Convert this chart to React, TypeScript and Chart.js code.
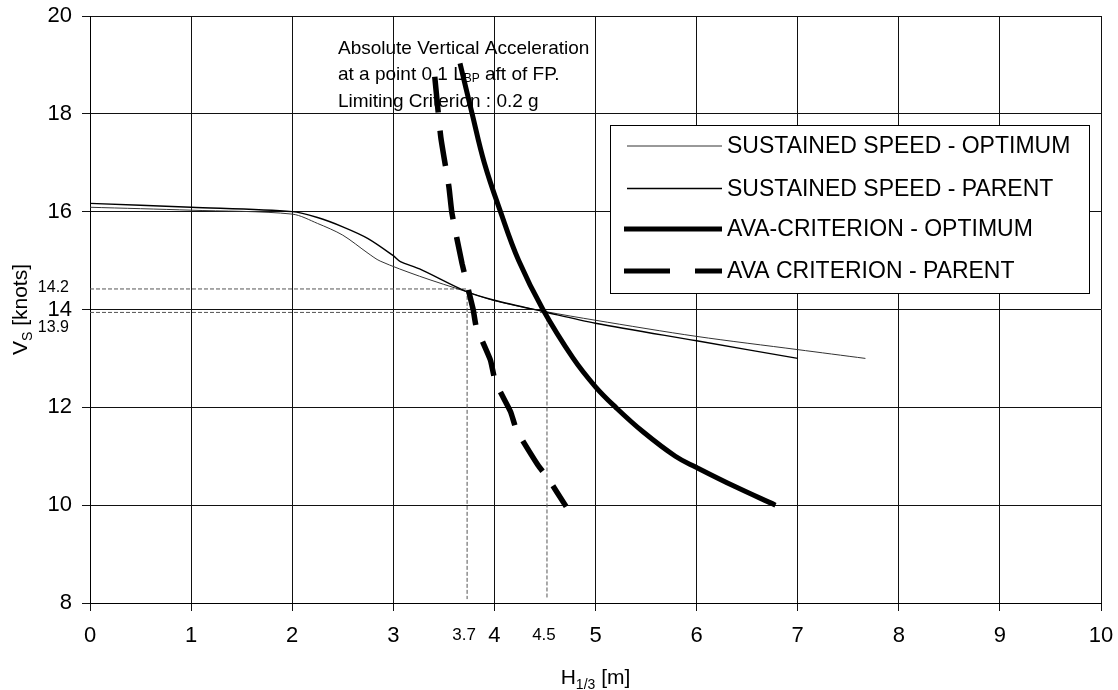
import React, { useEffect, useRef } from 'react';
import { Chart, registerables } from 'chart.js';
Chart.register(...registerables);

const FONT = '"Liberation Sans", Arial, Helvetica, sans-serif';

// ---- data ----
const seriesLabels = [
  'SUSTAINED SPEED - OPTIMUM',
  'SUSTAINED SPEED - PARENT',
  'AVA-CRITERION - OPTIMUM',
  'AVA CRITERION - PARENT',
];

const sustOptH = [0, 1, 2, 2.25, 2.5, 2.75, 2.87, 3.26, 3.73, 4, 4.5, 5, 6, 7, 7.67];
const sustOptV = [16.09, 16.03, 15.95, 15.76, 15.52, 15.15, 14.99, 14.68, 14.36, 14.18, 13.96, 13.78, 13.45, 13.18, 13.0];

const sustParH = [0, 1, 2, 2.25, 2.5, 2.75, 3.0, 3.07, 3.26, 3.73, 4, 4.5, 5, 6, 7];
const sustParV = [16.17, 16.09, 16.0, 15.88, 15.69, 15.45, 15.1, 14.98, 14.83, 14.36, 14.19, 13.95, 13.72, 13.36, 13.0];

const avaOptH = [3.66, 3.78, 3.9, 4.06, 4.24, 4.48, 4.78, 5.0, 5.2, 5.47, 5.79, 6.0, 6.38, 6.78];
const avaOptV = [19.03, 18.0, 17.0, 16.0, 15.0, 14.0, 13.0, 12.42, 12.0, 11.5, 11.0, 10.77, 10.38, 10.0];

const avaParH = [3.41, 3.47, 3.55, 3.58, 3.68, 3.79, 3.82, 3.96, 4.01, 4.16, 4.22, 4.43, 4.53, 4.71];
const avaParV = [18.76, 17.52, 16.51, 15.97, 14.94, 14.0, 13.65, 12.97, 12.52, 11.91, 11.53, 10.82, 10.55, 9.97];

const refAH = [0, 3.73, 3.73];
const refAV = [14.42, 14.42, 8.08];
const refBH = [0, 4.52, 4.52];
const refBV = [13.94, 13.94, 8.1];

const extraYLabels = ['14.2', '13.9'];
const extraYValues = [14.42, 13.94];
const extraXLabels = ['3.7', '4.5'];
const extraXValues = [3.73, 4.52];

const noteLines = ['Absolute Vertical Acceleration', 'at a point 0.1 L', 'BP', ' aft of FP.', 'Limiting Criterion : 0.2 g'];

const xMin = 0, xMax = 10, xStep = 1;
const yMin = 8, yMax = 20, yStep = 2;

const pts = (xs: number[], ys: number[]) => xs.map((x, i) => ({ x, y: ys[i] }));

const legendStyles = [
  { width: 1, color: '#333', dash: [] as number[] },
  { width: 1.4, color: '#000', dash: [] as number[] },
  { width: 5, color: '#000', dash: [] as number[] },
  { width: 5, color: '#000', dash: [46, 25] },
];

const overlayPlugin = {
  id: 'overlay',
  beforeDatasetsDraw(chart: any) {
    const ctx = chart.ctx as CanvasRenderingContext2D;
    ctx.save();
    ctx.fillStyle = '#000';
    ctx.textAlign = 'left';
    ctx.textBaseline = 'alphabetic';
    const left = 338;
    ctx.font = `19px ${FONT}`;
    ctx.fillText(noteLines[0], left, 54);
    let cx = left;
    ctx.fillText(noteLines[1], cx, 79.5);
    cx += ctx.measureText(noteLines[1]).width;
    ctx.font = `12px ${FONT}`;
    ctx.fillText(noteLines[2], cx, 82);
    cx += ctx.measureText(noteLines[2]).width;
    ctx.font = `19px ${FONT}`;
    ctx.fillText(noteLines[3], cx, 79.5);
    ctx.fillText(noteLines[4], left, 106.5);
    ctx.restore();
  },
  afterDatasetsDraw(chart: any) {
    const ctx = chart.ctx as CanvasRenderingContext2D;
    ctx.save();
    const l = 610, t = 125, r = 1089, b = 293;
    ctx.fillStyle = '#fff';
    ctx.fillRect(l, t, r - l, b - t);
    ctx.strokeStyle = '#000';
    ctx.lineWidth = 1;
    ctx.strokeRect(l + 0.5, t + 0.5, r - l, b - t);
    const rows = [146, 188.5, 229, 271];
    ctx.font = `23px ${FONT}`;
    ctx.textBaseline = 'middle';
    ctx.textAlign = 'left';
    seriesLabels.forEach((lab, i) => {
      const st = legendStyles[i];
      ctx.beginPath();
      ctx.setLineDash(st.dash);
      ctx.lineWidth = st.width;
      ctx.strokeStyle = st.color;
      ctx.lineCap = 'butt';
      ctx.moveTo(i >= 2 ? 624 : 627, rows[i]);
      ctx.lineTo(722, rows[i]);
      ctx.stroke();
      ctx.setLineDash([]);
      ctx.fillStyle = '#000';
      ctx.fillText(lab, 727, rows[i] + 1);
    });
    ctx.restore();
  },
  afterDraw(chart: any) {
    const ctx = chart.ctx as CanvasRenderingContext2D;
    const xs = chart.scales.x;
    const ys = chart.scales.y;
    ctx.save();
    ctx.fillStyle = '#000';
    ctx.font = `16px ${FONT}`;
    ctx.textAlign = 'right';
    ctx.textBaseline = 'middle';
    const yOff = [-1.5, 15];
    extraYLabels.forEach((lab, i) => {
      ctx.fillText(lab, 69, ys.getPixelForValue(extraYValues[i]) + yOff[i]);
    });
    ctx.font = `17px ${FONT}`;
    ctx.textAlign = 'center';
    extraXLabels.forEach((lab, i) => {
      ctx.fillText(lab, xs.getPixelForValue(extraXValues[i]) - 3, 635);
    });
    // y title
    ctx.textAlign = 'left';
    ctx.textBaseline = 'alphabetic';
    ctx.save();
    ctx.translate(27, (chart.chartArea.top + chart.chartArea.bottom) / 2);
    ctx.rotate(-Math.PI / 2);
    ctx.font = `21px ${FONT}`;
    const wV = ctx.measureText('V').width;
    const wRest = ctx.measureText(' [knots]').width;
    ctx.font = `14px ${FONT}`;
    const wS = ctx.measureText('S').width;
    let px = -(wV + wS + wRest) / 2;
    ctx.font = `21px ${FONT}`;
    ctx.fillText('V', px, 0);
    px += wV;
    ctx.font = `14px ${FONT}`;
    ctx.fillText('S', px, 4.5);
    px += wS;
    ctx.font = `21px ${FONT}`;
    ctx.fillText(' [knots]', px, 0);
    ctx.restore();
    // x title
    ctx.font = `21px ${FONT}`;
    const wH = ctx.measureText('H').width;
    const wM = ctx.measureText(' [m]').width;
    ctx.font = `14px ${FONT}`;
    const wSub = ctx.measureText('1/3').width;
    let qx = (chart.chartArea.left + chart.chartArea.right) / 2 - (wH + wSub + wM) / 2;
    ctx.font = `21px ${FONT}`;
    ctx.fillText('H', qx, 683.5);
    qx += wH;
    ctx.font = `14px ${FONT}`;
    ctx.fillText('1/3', qx, 689);
    qx += wSub;
    ctx.font = `21px ${FONT}`;
    ctx.fillText(' [m]', qx, 683.5);
    ctx.restore();
  },
};

export default function App() {
  const ref = useRef<HTMLCanvasElement>(null);
  useEffect(() => {
    document.body.style.margin = '0';
    const refStyle = {
      borderColor: '#555',
      borderWidth: 1,
      borderDash: [4, 2],
      pointRadius: 0,
      showLine: true,
      tension: 0,
    };
    const chart = new Chart(ref.current!, {
      type: 'scatter',
      data: {
        datasets: [
          {
            label: seriesLabels[2],
            data: pts(avaOptH, avaOptV),
            borderColor: '#000',
            borderWidth: 5,
            pointRadius: 0,
            showLine: true,
            tension: 0.4,
            order: 1,
          },
          {
            label: seriesLabels[3],
            data: pts(avaParH, avaParV),
            borderColor: '#000',
            borderWidth: 5.5,
            borderDash: [36, 18],
            pointRadius: 0,
            showLine: true,
            tension: 0.15,
            order: 2,
          },
          {
            label: seriesLabels[1],
            data: pts(sustParH, sustParV),
            borderColor: '#000',
            borderWidth: 1.4,
            pointRadius: 0,
            showLine: true,
            tension: 0.3,
            order: 3,
          },
          {
            label: seriesLabels[0],
            data: pts(sustOptH, sustOptV),
            borderColor: '#333',
            borderWidth: 1,
            pointRadius: 0,
            showLine: true,
            tension: 0.3,
            order: 4,
          },
          { label: 'refA', data: pts(refAH, refAV), ...refStyle, order: 5 },
          { label: 'refB', data: pts(refBH, refBV), ...refStyle, order: 6 },
        ] as any,
      },
      options: {
        animation: false,
        responsive: false,
        devicePixelRatio: 1,
        layout: { padding: { left: 0, top: 16, right: 17, bottom: 0 } },
        plugins: {
          legend: { display: false },
          tooltip: { enabled: false },
        },
        scales: {
          x: {
            type: 'linear',
            min: xMin,
            max: xMax,
            ticks: {
              stepSize: xStep,
              autoSkip: false,
              maxRotation: 0,
              color: '#000',
              padding: 12,
              font: { family: FONT, size: 22 },
            },
            grid: { color: '#111', lineWidth: 1, tickLength: 8 },
            border: { color: '#000', width: 1 },
            afterFit: (s: any) => {
              s.height = 87;
              s.paddingLeft = 0;
              s.paddingRight = 0;
            },
          },
          y: {
            type: 'linear',
            min: yMin,
            max: yMax,
            ticks: {
              stepSize: yStep,
              color: '#000',
              padding: 10,
              font: { family: FONT, size: 22 },
            },
            grid: { color: '#111', lineWidth: 1, tickLength: 8 },
            border: { color: '#000', width: 1 },
            afterFit: (s: any) => {
              s.width = 90;
              s.paddingTop = 0;
              s.paddingBottom = 0;
            },
          },
        },
      } as any,
      plugins: [overlayPlugin],
    });
    return () => chart.destroy();
  }, []);
  return (
    <div style={{ width: 1118, height: 690 }}>
      <canvas ref={ref} width={1118} height={690} style={{ display: 'block' }} />
    </div>
  );
}
